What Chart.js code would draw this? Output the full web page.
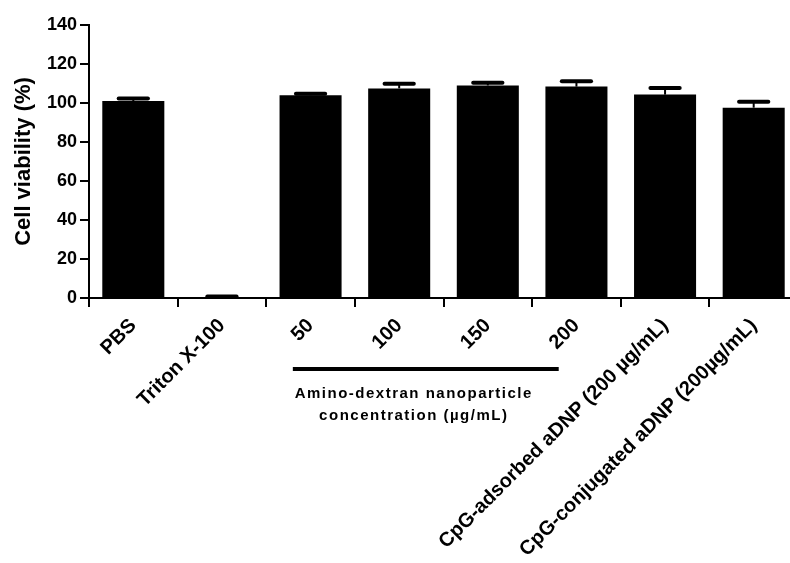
<!DOCTYPE html>
<html>
<head>
<meta charset="utf-8">
<script src="https://cdn.jsdelivr.net/npm/chart.js@4"></script>
<style>
  html, body { margin: 0; padding: 0; background: #fff; overflow: hidden; }
  #wrap { width: 800px; height: 563px; }
</style>
</head>
<body>
<div id="wrap"><canvas id="myChart" width="800" height="563"></canvas></div>
<script>
var categories = ['PBS', 'Triton X-100', '50', '100', '150', '200',
    'CpG-adsorbed aDNP (200 µg/mL)', 'CpG-conjugated aDNP (200µg/mL)'];
var viability = [101, 0.5, 104, 107.5, 109, 108.4, 104.3, 97.6];
var sem = [1.3, 0.3, 0.8, 2.4, 1.4, 2.7, 3.4, 3.1];
var yTicks = [0, 20, 40, 60, 80, 100, 120, 140];
var groupLabel = ['Amino-dextran nanoparticle', 'concentration (µg/mL)'];
var groupStart = 2, groupEnd = 5;

var FONT = '"Liberation Sans", Arial, sans-serif';

// upward error bars only, like the original
var errorBars = {
    id: 'errorBars',
    afterDatasetsDraw: function (chart) {
        var ctx = chart.ctx;
        var x = chart.scales.x, y = chart.scales.y;
        var step = x.getPixelForValue(1) - x.getPixelForValue(0);
        ctx.save();
        ctx.strokeStyle = '#000';
        for (var i = 0; i < viability.length; i++) {
            var px = x.getPixelForValue(i);
            var top = y.getPixelForValue(viability[i]);
            var end = y.getPixelForValue(viability[i] + sem[i]);
            ctx.lineWidth = 2;
            ctx.lineCap = 'butt';
            ctx.beginPath();
            ctx.moveTo(px, top);
            ctx.lineTo(px, end);
            ctx.stroke();
            ctx.lineWidth = 4;
            ctx.lineCap = 'round';
            var half = step * 0.165;
            ctx.beginPath();
            ctx.moveTo(px - half, end);
            ctx.lineTo(px + half, end);
            ctx.stroke();
        }
        ctx.restore();
    }
};

// bracket line + caption under the nanoparticle doses
var groupCaption = {
    id: 'groupCaption',
    afterDraw: function (chart) {
        var ctx = chart.ctx;
        var x = chart.scales.x;
        var base = chart.chartArea.bottom;
        var step = x.getPixelForValue(1) - x.getPixelForValue(0);
        var x1 = x.getPixelForValue(groupStart) - step * 0.2;
        var x2 = x.getPixelForValue(groupEnd) - step * 0.2;
        var cx = (x1 + x2) / 2 - 12;
        ctx.save();
        ctx.strokeStyle = '#000';
        ctx.lineWidth = 4;
        ctx.beginPath();
        ctx.moveTo(x1, base + 71);
        ctx.lineTo(x2, base + 71);
        ctx.stroke();
        ctx.fillStyle = '#000';
        ctx.font = 'bold 15px ' + FONT;
        ctx.letterSpacing = '1.5px';
        ctx.textAlign = 'center';
        ctx.textBaseline = 'alphabetic';
        ctx.fillText(groupLabel[0], cx, base + 100);
        ctx.fillText(groupLabel[1], cx, base + 122);
        ctx.restore();
    }
};

var myChart = document.getElementById('myChart').getContext('2d');
var chart = new Chart(myChart, {
    type: 'bar',
    data: {
        labels: categories,
        datasets: [{
            label: 'Cell viability',
            data: viability,
            backgroundColor: '#000',
            borderWidth: 0,
            barPercentage: 0.7,
            categoryPercentage: 1.0
        }]
    },
    options: {
        responsive: false,
        animation: false,
        layout: { padding: { top: 25, right: 2, left: 0, bottom: 0 } },
        plugins: { legend: { display: false }, tooltip: { enabled: false } },
        scales: {
            x: {
                grid: { display: true, drawOnChartArea: false, color: '#000', lineWidth: 2, tickLength: 9 },
                border: { color: '#000', width: 2 },
                ticks: {
                    color: '#000', font: { family: FONT, size: 20, weight: 'bold' },
                    maxRotation: 45, minRotation: 45, padding: 7, autoSkip: false
                },
                afterFit: function (scale) { scale.height = 265; }
            },
            y: {
                min: 0, max: 140,
                afterBuildTicks: function (scale) {
                    scale.ticks = yTicks.map(function (v) { return { value: v }; });
                },
                grid: { display: true, drawOnChartArea: false, color: '#000', lineWidth: 2, tickLength: 9 },
                border: { color: '#000', width: 2 },
                ticks: { color: '#000', font: { family: FONT, size: 18, weight: 'bold' }, padding: 3 },
                title: {
                    display: true, text: 'Cell viability (%)', color: '#000',
                    font: { family: FONT, size: 22, weight: 'bold' }, padding: { top: 11, bottom: 0 }
                },
                afterFit: function (scale) { scale.width = 89; }
            }
        }
    },
    plugins: [errorBars, groupCaption]
});
</script>
</body>
</html>
